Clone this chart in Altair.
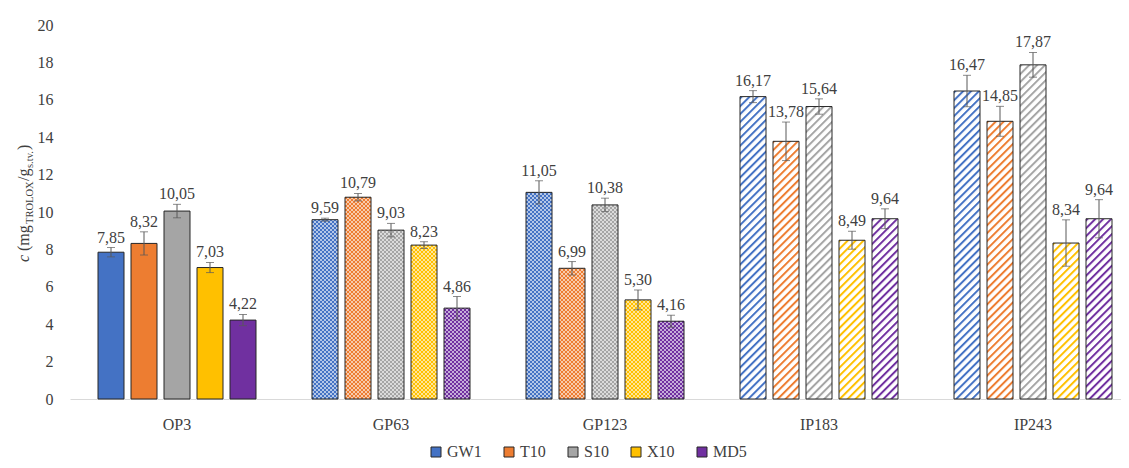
import altair as alt
import pandas as pd
from urllib.parse import quote

groups = ["OP3", "GP63", "GP123", "IP183", "IP243"]
series = ["GW1", "T10", "S10", "X10", "MD5"]
colors = ["#4472C4", "#ED7D31", "#A5A5A5", "#FFC000", "#7030A0"]
patterns = ["solid", "dots", "dots", "hatch", "hatch"]

gw1 = [7.85, 9.59, 11.05, 16.17, 16.47]
t10 = [8.32, 10.79, 6.99, 13.78, 14.85]
s10 = [10.05, 9.03, 10.38, 15.64, 17.87]
x10 = [7.03, 8.23, 5.30, 8.49, 8.34]
md5 = [4.22, 4.86, 4.16, 9.64, 9.64]

gw1_err = [0.25, 0.08, 0.62, 0.32, 0.84]
t10_err = [0.62, 0.20, 0.36, 1.03, 0.80]
s10_err = [0.36, 0.36, 0.36, 0.41, 0.66]
x10_err = [0.27, 0.18, 0.53, 0.48, 1.24]
md5_err = [0.30, 0.62, 0.32, 0.53, 1.02]

vals = [gw1, t10, s10, x10, md5]
errs = [gw1_err, t10_err, s10_err, x10_err, md5_err]

rows = []
for si, s in enumerate(series):
    for gi, g in enumerate(groups):
        rows.append({"group": g, "series": s, "value": vals[si][gi], "err": errs[si][gi]})
df = pd.DataFrame(rows)

# layout constants (styling)
W, H = 1051, 374
XRANGE = 1070
PX = H / 20.0
BAR_W = 26
FONT = "Liberation Serif"
TXT = "#404040"
EDGE = "#262626"


def mix(hexc, t):
    r, g, b = int(hexc[1:3], 16), int(hexc[3:5], 16), int(hexc[5:7], 16)
    r = round(r + (255 - r) * t)
    g = round(g + (255 - g) * t)
    b = round(b + (255 - b) * t)
    return "#%02x%02x%02x" % (r, g, b)


def svg_url(svg):
    return "data:image/svg+xml;charset=utf-8," + quote(svg)


def hatch_img(color, hpx):
    w = BAR_W
    svg = (
        f"<svg xmlns='http://www.w3.org/2000/svg' width='{w}' height='{hpx}' viewBox='0 0 {w} {hpx}'>"
        f"<defs><pattern id='p' width='5.6' height='5.6' patternUnits='userSpaceOnUse' "
        f"patternTransform='rotate(45)'><rect x='0' y='0' width='2' height='5.6' fill='{color}'/>"
        f"</pattern></defs>"
        f"<rect width='{w}' height='{hpx}' fill='#ffffff'/>"
        f"<rect width='{w}' height='{hpx}' fill='url(#p)'/></svg>"
    )
    return svg_url(svg)


def dots_img(color, hpx):
    w = BAR_W
    tint = mix(color, 0.6)
    svg = (
        f"<svg xmlns='http://www.w3.org/2000/svg' width='{w}' height='{hpx}' viewBox='0 0 {w} {hpx}'>"
        f"<defs><pattern id='d' width='4' height='4' patternUnits='userSpaceOnUse' y='{hpx % 4}'>"
        f"<rect width='4' height='4' fill='{color}'/>"
        f"<rect x='0' y='0' width='2' height='2' fill='{tint}'/>"
        f"<rect x='2' y='2' width='2' height='2' fill='{tint}'/>"
        f"</pattern></defs>"
        f"<rect width='{w}' height='{hpx}' fill='url(#d)'/></svg>"
    )
    return svg_url(svg)


yscale = alt.Scale(domain=[0, 20], nice=False)
yaxis = alt.Axis(values=list(range(0, 21, 2)), labelFont=FONT, labelFontSize=16,
                 labelColor=TXT, ticks=False, domain=False, grid=False, labelPadding=17,
                 labelOverlap=False)

base = alt.Chart(df).transform_calculate(
    lo="datum.value - datum.err",
    hi="datum.value + datum.err",
    label="replace(format(datum.value, '.2f'), '.', ',')",
).encode(
    x=alt.X(
        "group:N", sort=groups, title=None,
        scale=alt.Scale(domain=groups, range=[0, XRANGE], paddingInner=0, paddingOuter=0),
        axis=alt.Axis(labelFont=FONT, labelFontSize=16, labelColor=TXT, labelAngle=0,
                      ticks=False, labelPadding=17, domainColor="#D9D9D9", domainWidth=1.2),
    ),
    xOffset=alt.XOffset(
        "series:N", sort=series,
        scale=alt.Scale(domain=series, paddingInner=7 / 33, paddingOuter=28 / 33),
    ),
    y=alt.Y("value:Q", title=None, scale=yscale, axis=yaxis),
)

layers = []
solid = base.transform_filter("datum.group == 'OP3'").mark_bar(
    stroke=EDGE, strokeWidth=1
).encode(
    fill=alt.Fill(
        "series:N", sort=series,
        scale=alt.Scale(domain=series, range=colors),
        legend=alt.Legend(
            title=None, orient="none", direction="horizontal", legendX=358, legendY=419,
            symbolType="square", symbolSize=100, symbolStrokeColor=EDGE, symbolStrokeWidth=1,
            labelFont=FONT, labelFontSize=16, labelColor=TXT, labelOffset=3,
            columnPadding=19, padding=0,
        ),
    )
)
layers.append(solid)

# patterned fills: one image per bar, anchored at the bar base
for gi, g in enumerate(groups):
    pat = patterns[gi]
    if pat == "solid":
        continue
    for si, s in enumerate(series):
        hpx = int(round(vals[si][gi] * PX))
        url = hatch_img(colors[si], hpx) if pat == "hatch" else dots_img(colors[si], hpx)
        layers.append(
            base.transform_filter(f"datum.group == '{g}' && datum.series == '{s}'")
            .mark_image(url=url, width=BAR_W, height=hpx, aspect=False,
                        align="center", baseline="bottom")
            .encode(y=alt.Y(datum=0, scale=yscale, axis=yaxis, title=None))
        )

# outlines of patterned bars
layers.append(
    base.transform_filter("datum.group != 'OP3'")
    .mark_bar(fillOpacity=0, stroke=EDGE, strokeWidth=1)
)

ERR = "#595959"
ylo = alt.Y("lo:Q", title=None, scale=yscale, axis=yaxis)
yhi = alt.Y("hi:Q", title=None, scale=yscale, axis=yaxis)
layers.append(base.mark_rule(color=ERR, strokeWidth=1).encode(y=ylo, y2="hi:Q"))
layers.append(base.mark_tick(color=ERR, thickness=1, size=8, orient="horizontal").encode(y=ylo))
layers.append(base.mark_tick(color=ERR, thickness=1, size=8, orient="horizontal").encode(y=yhi))
layers.append(
    base.mark_text(font=FONT, fontSize=16, color=TXT, baseline="alphabetic", dy=-5)
    .encode(y=yhi, text="label:N")
)

# y-axis title built from pieces (subscripts)
one = pd.DataFrame({"k": [0]})
title_parts = [
    ("c", 16, "italic", 262, 0),
    ("(mg", 16, "normal", 251, 0),
    ("TROLOX", 10.5, "normal", 224, 4),
    ("/g", 16, "normal", 181, 0),
    ("s.tv.", 10.5, "normal", 168, 4),
    (")", 16, "normal", 150, 0),
]
for txt, fs, style, ystart, shift in title_parts:
    layers.append(
        alt.Chart(one).mark_text(
            font=FONT, fontSize=fs, fontStyle=style, color=TXT, angle=270,
            align="left", baseline="alphabetic",
        ).encode(x=alt.value(29 - 70 + shift), y=alt.value(ystart - 25), text=alt.value(txt))
    )

chart = alt.layer(*layers).properties(
    width=W, height=H,
    padding={"left": 62, "top": 17, "right": 0, "bottom": 61},
    autosize=alt.AutoSizeParams(type="none"),
).configure_view(stroke=None).configure_axis(grid=False)

chart.save("out.html", embed_options={"renderer": "svg", "actions": False})
